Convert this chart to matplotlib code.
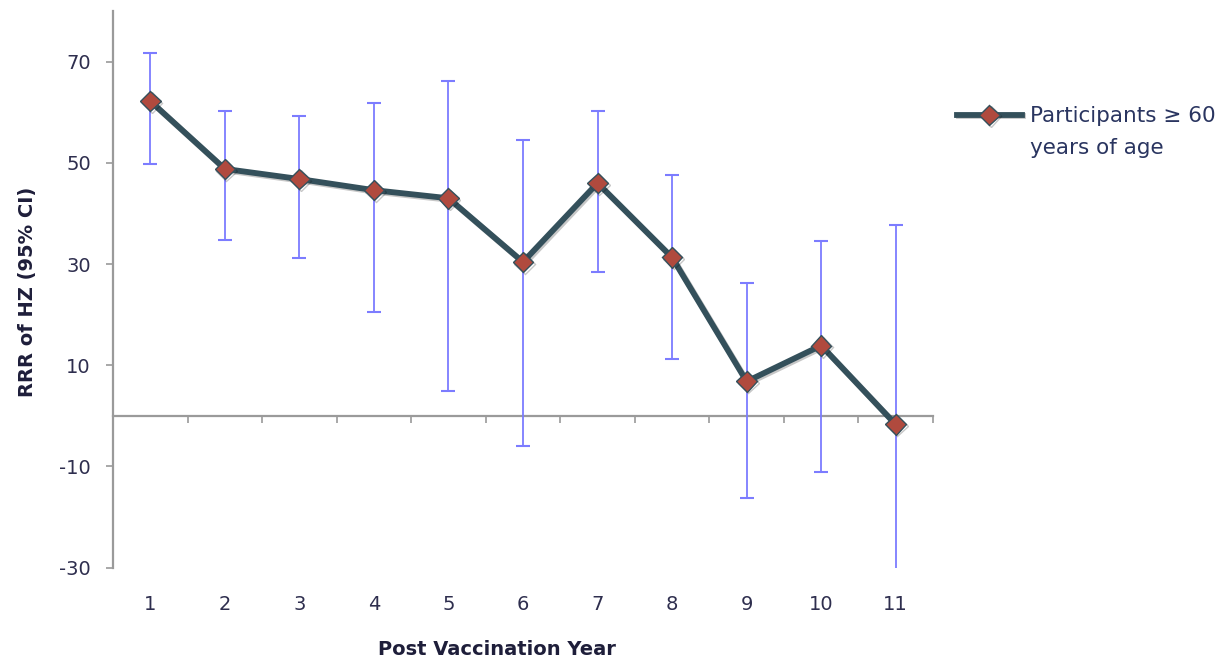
import matplotlib
matplotlib.use("Agg")
import matplotlib.pyplot as plt
import matplotlib.patheffects as pe
import numpy as np

plt.rcParams['font.family'] = ['DejaVu Sans']
plt.rcParams['axes.unicode_minus'] = False

years = [1, 2, 3, 4, 5, 6, 7, 8, 9, 10, 11]
rrr = [62.2, 48.8, 46.8, 44.6, 43.0, 30.4, 46.0, 31.3, 6.8, 13.9, -1.7]
ci_low = [49.8, 34.8, 31.1, 20.6, 5.0, -5.9, 28.5, 11.2, -16.3, -11.0, -32.0]
ci_high = [71.7, 60.3, 59.3, 61.8, 66.2, 54.5, 60.3, 47.6, 26.3, 34.6, 37.7]
y_ticks = [-30, -10, 10, 30, 50, 70]
series_label = "Participants \u2265 60\nyears of age"
x_title = "Post Vaccination Year"
y_title = "RRR of HZ (95% CI)"

W, H = 1224, 659
fig = plt.figure(figsize=(W / 100, H / 100), dpi=100)
ax = fig.add_axes([113 / W, 1 - 567.7 / H, 820 / W, 556.7 / H])

gray = '#9a9a9a'
txt = '#2e2e4e'

yerr = [np.array(rrr) - np.array(ci_low), np.array(ci_high) - np.array(rrr)]
ax.errorbar(years, rrr, yerr=yerr, fmt='none', ecolor='#7c7cff', elinewidth=1.3,
            capsize=5, capthick=1.5, zorder=2)
line, = ax.plot(years, rrr, color='#34505b', lw=4.2, marker='D', markersize=10.5,
                markerfacecolor='#b04a3e', markeredgecolor='#34505b', markeredgewidth=1.0,
                zorder=4, label=series_label)
line.set_path_effects([pe.SimpleLineShadow(offset=(1.2, -1.2), shadow_color='k', alpha=0.22),
                       pe.Normal()])

ax.set_xlim(0.5, 11.5)
ax.set_ylim(-30, 80)
for s in ['top', 'right', 'bottom']:
    ax.spines[s].set_visible(False)
ax.spines['left'].set_color(gray)
ax.spines['left'].set_linewidth(1.6)

ax.set_yticks(y_ticks)
ax.tick_params(axis='y', direction='out', length=5, width=1.2, color=gray,
               labelsize=14, labelcolor=txt, pad=11)
ax.set_xticks(years)
ax.tick_params(axis='x', length=0, labelsize=14, labelcolor=txt, pad=20)

# horizontal axis line at zero with boundary ticks
sec = ax.secondary_xaxis(30 / 110)
sec.spines['bottom'].set_color(gray)
sec.spines['bottom'].set_linewidth(1.6)
sec.set_xticks([y + 0.5 for y in years])
sec.tick_params(axis='x', direction='out', length=5, width=1.2, color=gray, labelbottom=False)

fig.text(497 / W, 1 - 655 / H, x_title, ha='center', va='baseline', fontsize=14,
         fontweight='bold', color='#1e1e3a')
fig.text(28 / W, 1 - 292 / H, y_title, ha='center', va='center', rotation=90,
         fontsize=14, fontweight='bold', color='#1e1e3a')

leg = fig.legend(handles=[line], labels=[series_label], loc='upper left',
                 bbox_to_anchor=(957 / W, 1 - 106 / H), frameon=False, fontsize=15.5,
                 handlelength=3.0, handletextpad=0.4, handleheight=1.1,
                 borderpad=0, borderaxespad=0, labelcolor='#2a3560')
try:
    for col in leg._legend_handle_box.get_children():
        for hp in col.get_children():
            hp.align = 'top'
except Exception:
    pass
leg.texts[0].set_linespacing(1.75)

fig.savefig('out.png', dpi=100)
